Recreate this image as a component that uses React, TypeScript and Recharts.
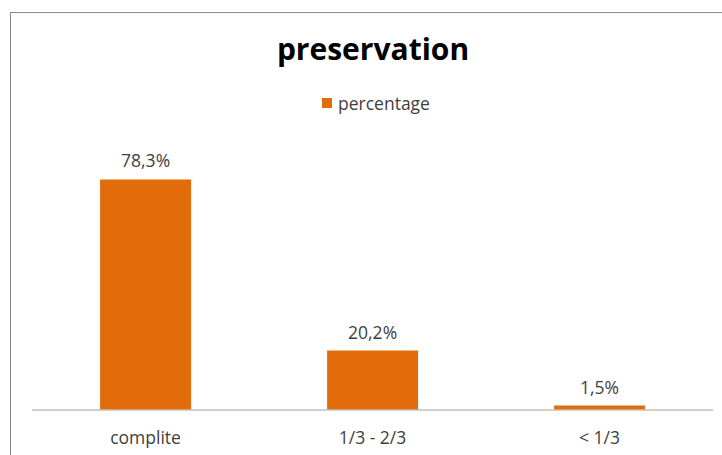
import React from 'react';
import { BarChart, Bar, XAxis, YAxis, LabelList } from 'recharts';

const categories = ['complite', '1/3 - 2/3', '< 1/3'];
const percentage = [78.3, 20.2, 1.5];
const seriesName = 'percentage';

const data = categories.map((name, i) => ({ name, percentage: percentage[i] }));

const FONT = '"Open Sans", sans-serif';
const ORANGE = '#E36C0A';
const TEXT = '#404040';

const fmt = (v: number) => `${v.toFixed(1).replace('.', ',')}%`;

export default function App() {
  return (
    <div style={{ position: 'absolute', left: 0, top: 0, width: 722, height: 455, background: '#fff', overflow: 'hidden', fontFamily: FONT }}>
      <div style={{ position: 'absolute', left: 10, top: 12, width: 760, height: 500, border: '1.5px solid #8c8c8c' }} />
      <div style={{ position: 'absolute', left: 0, top: 29, width: 746, textAlign: 'center', fontSize: 30, lineHeight: '40px', fontWeight: 700, color: '#000' }}>
        preservation
      </div>
      <div style={{ position: 'absolute', left: 0, top: 91, width: 752, display: 'flex', justifyContent: 'center', alignItems: 'center', fontSize: 17.5, lineHeight: '24px', color: TEXT }}>
        <span style={{ display: 'inline-block', width: 10, height: 10, background: ORANGE, marginRight: 6 }} />
        {seriesName}
      </div>
      <div style={{ position: 'absolute', left: 0, top: 0 }}>
        <BarChart width={722} height={455} data={data} margin={{ top: 145, right: 9, bottom: 15, left: 32 }} barCategoryGap="30%">
          <XAxis
            dataKey="name"
            height={30}
            axisLine={{ stroke: '#bfbfbf', strokeWidth: 1.5 }}
            tickLine={false}
            tickMargin={16}
            tick={{ fill: TEXT, fontSize: 17.5, fontFamily: FONT }}
          />
          <YAxis hide domain={[0, 90]} />
          <Bar dataKey="percentage" name={seriesName} fill={ORANGE} isAnimationActive={false}>
            <LabelList dataKey="percentage" position="top" offset={12} formatter={(v: number) => fmt(v)} fill={TEXT} fontSize={17.5} fontFamily={FONT} />
          </Bar>
        </BarChart>
      </div>
    </div>
  );
}
